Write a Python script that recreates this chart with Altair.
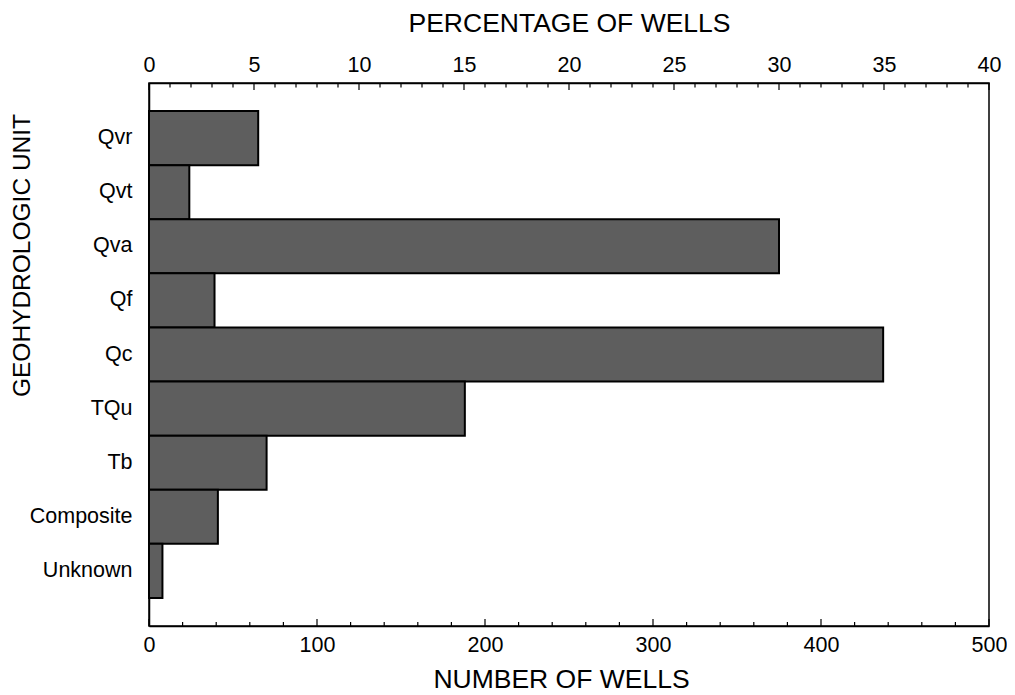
import altair as alt
import pandas as pd

# ---- data ----
units = ["Qvr", "Qvt", "Qva", "Qf", "Qc", "TQu", "Tb", "Composite", "Unknown"]
wells = [65, 24, 375, 39, 437, 188, 70, 41, 8]

bottom_major = [0, 100, 200, 300, 400, 500]
bottom_minor = [20, 40, 60, 80, 120, 140, 160, 180, 220, 240, 260, 280,
                320, 340, 360, 380, 420, 440, 460, 480]
top_major = [0, 5, 10, 15, 20, 25, 30, 35, 40]
top_minor = [1, 2, 3, 4, 6, 7, 8, 9, 11, 12, 13, 14, 16, 17, 18, 19,
             21, 22, 23, 24, 26, 27, 28, 29, 31, 32, 33, 34, 36, 37, 38, 39]

W, H = 840, 543
FONT = "Liberation Sans"

df = pd.DataFrame({"unit": units, "wells": wells})

wells_scale = alt.Scale(domain=[0, 500], nice=False, zero=True)
pct_scale = alt.Scale(domain=[0, 40], nice=False, zero=True)

x_bottom = alt.Axis(
    orient="bottom", values=bottom_major, ticks=False, grid=False,
    domain=True, domainColor="black", domainWidth=1.5,
    labelFontSize=21.5, labelPadding=8, labelFont=FONT, labelColor="black",
    labelFlush=False, format="d",
    title="NUMBER OF WELLS", titleFontSize=26.5, titleFont=FONT,
    titleFontWeight="normal", titleColor="black", titleX=W / 2 - 8, titleY=53,
    titleBaseline="middle", titleAlign="center",
)
x_top = alt.Axis(
    orient="top", values=top_major, ticks=False, grid=False,
    domain=True, domainColor="black", domainWidth=1.5,
    labelFontSize=21.5, labelPadding=7, labelFont=FONT, labelColor="black",
    labelFlush=False, format="d",
    title="PERCENTAGE OF WELLS", titleFontSize=26.5, titleFont=FONT,
    titleFontWeight="normal", titleColor="black", titleX=W / 2, titleY=-60,
    titleBaseline="middle", titleAlign="center",
)
y_axis = alt.Axis(
    ticks=False, grid=False, domain=True, domainColor="black", domainWidth=1.5,
    labelFontSize=21.5, labelPadding=17,
    labelFont=FONT, labelColor="black", labelAlign="right",
    title="GEOHYDROLOGIC UNIT", titleFontSize=24.5, titleFont=FONT,
    titleFontWeight="normal", titleColor="black", titleAngle=-90,
    titleX=-127, titleY=172, titleBaseline="middle", titleAlign="center",
)

bars = alt.Chart(df).mark_bar(fill="#5e5e5e", stroke="black", strokeWidth=2).encode(
    y=alt.Y("unit:N", sort=units,
            scale=alt.Scale(paddingInner=0, paddingOuter=0.52), axis=y_axis),
    x=alt.X("wells:Q", scale=wells_scale, axis=x_bottom),
)

bmaj = alt.Chart(pd.DataFrame({"wells": bottom_major})).mark_rule(
    color="black", strokeWidth=1.2).encode(
    x=alt.X("wells:Q", scale=wells_scale, axis=x_bottom),
    y=alt.value(H), y2=alt.value(H - 7),
)
bmin = alt.Chart(pd.DataFrame({"wells": bottom_minor})).mark_rule(
    color="black", strokeWidth=1.2).encode(
    x=alt.X("wells:Q", scale=wells_scale, axis=x_bottom),
    y=alt.value(H), y2=alt.value(H - 4),
)
tmaj = alt.Chart(pd.DataFrame({"pct": top_major})).mark_rule(
    color="black", strokeWidth=1.2).encode(
    x=alt.X("pct:Q", scale=pct_scale, axis=x_top),
    y=alt.value(0), y2=alt.value(7),
)
tmin = alt.Chart(pd.DataFrame({"pct": top_minor})).mark_rule(
    color="black", strokeWidth=1.2).encode(
    x=alt.X("pct:Q", scale=pct_scale, axis=x_top),
    y=alt.value(0), y2=alt.value(4.5),
)

bottom_layer = alt.layer(bars, bmaj, bmin)
top_layer = alt.layer(tmaj, tmin)

chart = alt.layer(bottom_layer, top_layer).resolve_scale(
    x="independent"
).properties(
    width=W, height=H,
    view=alt.ViewBackground(stroke="black", strokeWidth=1.5),
    autosize=alt.AutoSizeParams(type="none"),
    padding={"left": 141, "top": 75, "right": 18, "bottom": 68},
).configure_view(
    stroke="black", strokeWidth=1.5
).configure(background="white")

chart.save("out.html", embed_options={"renderer": "svg", "actions": False})
